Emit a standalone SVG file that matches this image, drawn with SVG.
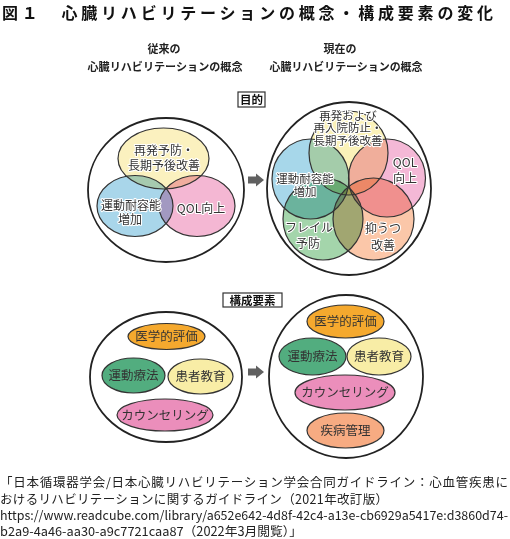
<svg xmlns="http://www.w3.org/2000/svg" width="510" height="539" viewBox="0 0 510 539">
<style>
text{font-family:"Noto Sans CJK JP","Noto Sans",sans-serif;}
.title{font-size:16px;font-weight:bold;fill:#111;}
.hdr{font-size:11px;font-weight:bold;fill:#222;text-anchor:middle;}
.lbl{font-size:11.5px;font-weight:bold;fill:#111;text-anchor:middle;}
.vt{font-size:12px;fill:#333;text-anchor:middle;stroke:#fff;stroke-width:2.2px;paint-order:stroke;stroke-linejoin:round;}
.vs2{font-size:11.5px;}
.ct{font-size:12.5px;fill:#333;text-anchor:middle;}
.foot{font-size:12.5px;fill:#222;}
.big{fill:none;stroke:#222;stroke-width:1.8;}
.vf{mix-blend-mode:multiply;stroke:none;}
.vs{fill:none;stroke:#333;stroke-width:1.2;}
.ce{stroke:#333;stroke-width:1.2;}
.box{fill:#fff;stroke:#333;stroke-width:1.2;}
.arr{fill:#606060;}
</style>
<rect width="510" height="539" fill="#fff"/>

<text class="title" x="2" y="19" textLength="491" lengthAdjust="spacing">図１　心臓リハビリテーションの概念・構成要素の変化</text>

<g id="header-old">
<text class="hdr" x="164" y="53">従来の</text>
<text class="hdr" x="165" y="71" textLength="155" lengthAdjust="spacingAndGlyphs">心臓リハビリテーションの概念</text>
</g>
<g id="header-new">
<text class="hdr" x="340" y="53">現在の</text>
<text class="hdr" x="346" y="71" textLength="153" lengthAdjust="spacingAndGlyphs">心臓リハビリテーションの概念</text>
</g>

<g id="label-purpose">
<rect class="box" x="238" y="92" width="27" height="15"/>
<text class="lbl" x="251.5" y="104">目的</text>
</g>

<g id="purpose-old">
<ellipse class="big" cx="166" cy="190" rx="78" ry="72"/>
<g style="isolation:isolate">
<ellipse class="vf" cx="163.5" cy="158.5" rx="45.5" ry="30.5" fill="#fbf1bf"/>
<ellipse class="vf" cx="135" cy="206" rx="38" ry="30.5" fill="#a9d6ea"/>
<ellipse class="vf" cx="197" cy="206" rx="38" ry="30.5" fill="#f4b7d3"/>
</g>
<ellipse class="vs" cx="163.5" cy="158.5" rx="45.5" ry="30.5"/>
<ellipse class="vs" cx="135" cy="206" rx="38" ry="30.5"/>
<ellipse class="vs" cx="197" cy="206" rx="38" ry="30.5"/>
<text class="vt" x="164" y="155">再発予防・</text>
<text class="vt" x="164" y="170">長期予後改善</text>
<text class="vt" x="131" y="210">運動耐容能</text>
<text class="vt" x="130" y="224">増加</text>
<text class="vt" x="201" y="213">QOL向上</text>
</g>

<g id="purpose-new">
<ellipse class="big" cx="349" cy="188.5" rx="82" ry="86.5"/>
<g style="isolation:isolate">
<ellipse class="vf" cx="348.5" cy="153" rx="39.5" ry="42" fill="#fbf2b9"/>
<ellipse class="vf" cx="310.5" cy="179" rx="38.5" ry="40" fill="#a7d7ea"/>
<ellipse class="vf" cx="387" cy="178" rx="38.5" ry="39" fill="#f4b8d6"/>
<ellipse class="vf" cx="323" cy="219" rx="40" ry="41" fill="#a4d5ab"/>
<ellipse class="vf" cx="373.5" cy="219" rx="40.5" ry="41" fill="#fbc7a9"/>
</g>
<ellipse class="vs" cx="348.5" cy="153" rx="39.5" ry="42"/>
<ellipse class="vs" cx="310.5" cy="179" rx="38.5" ry="40"/>
<ellipse class="vs" cx="387" cy="178" rx="38.5" ry="39"/>
<ellipse class="vs" cx="323" cy="219" rx="40" ry="41"/>
<ellipse class="vs" cx="373.5" cy="219" rx="40.5" ry="41"/>
<text class="vt vs2" x="348" y="119.5">再発および</text>
<text class="vt vs2" x="348" y="132">再入院防止・</text>
<text class="vt vs2" x="348" y="144.5">長期予後改善</text>
<text class="vt" x="405" y="167">QOL</text>
<text class="vt" x="405" y="183">向上</text>
<text class="vt vs2" x="305" y="182.5">運動耐容能</text>
<text class="vt vs2" x="305" y="196">増加</text>
<text class="vt" x="309" y="232">フレイル</text>
<text class="vt" x="308" y="248">予防</text>
<text class="vt" x="383" y="233">抑うつ</text>
<text class="vt" x="383" y="250">改善</text>
</g>

<g id="connectors">
<polygon class="arr" points="248,176.5 256,176.5 256,173.5 264,180 256,186.5 256,183.5 248,183.5"/>
<polygon class="arr" points="248,368.5 256,368.5 256,365.5 264,372 256,378.5 256,375.5 248,375.5"/>
</g>

<g id="label-components">
<rect class="box" x="223" y="293" width="59" height="14"/>
<text class="lbl" x="252.5" y="304.5">構成要素</text>
</g>

<g id="components-old">
<ellipse class="big" cx="166" cy="377" rx="76" ry="65"/>
<g id="c-old-eval"><ellipse class="ce" cx="166.5" cy="336.5" rx="38.5" ry="13" fill="#f5a92e"/><text class="ct" x="166.5" y="341">医学的評価</text></g>
<g id="c-old-exercise"><ellipse class="ce" cx="133.5" cy="375.5" rx="31.5" ry="17.5" fill="#52ad7f"/><text class="ct" x="133.5" y="380">運動療法</text></g>
<g id="c-old-edu"><ellipse class="ce" cx="200.5" cy="376.5" rx="32.5" ry="17.5" fill="#f8eda6"/><text class="ct" x="200.5" y="381">患者教育</text></g>
<g id="c-old-counsel"><ellipse class="ce" cx="165" cy="415" rx="48" ry="16" fill="#eb8ebb"/><text class="ct" x="165" y="419.5">カウンセリング</text></g>
</g>

<g id="components-new">
<ellipse class="big" cx="346" cy="376.5" rx="77" ry="81.5"/>
<g id="c-new-eval"><ellipse class="ce" cx="345.5" cy="321.5" rx="38.5" ry="16.5" fill="#f5a92e"/><text class="ct" x="345.5" y="326">医学的評価</text></g>
<g id="c-new-exercise"><ellipse class="ce" cx="312.5" cy="356.5" rx="33.5" ry="18.5" fill="#52ad7f"/><text class="ct" x="312.5" y="361">運動療法</text></g>
<g id="c-new-edu"><ellipse class="ce" cx="379" cy="356.5" rx="32" ry="18.5" fill="#f8eda6"/><text class="ct" x="379" y="361">患者教育</text></g>
<g id="c-new-counsel"><ellipse class="ce" cx="345" cy="392.5" rx="50" ry="17.5" fill="#eb8ebb"/><text class="ct" x="345" y="397">カウンセリング</text></g>
<g id="c-new-disease"><ellipse class="ce" cx="345.5" cy="430.5" rx="38.5" ry="17.5" fill="#f7ab82"/><text class="ct" x="345.5" y="435">疾病管理</text></g>
</g>

<g id="footer">
<text class="foot" x="0" y="487" textLength="508" lengthAdjust="spacing">「日本循環器学会/日本心臓リハビリテーション学会合同ガイドライン：心血管疾患に</text>
<text class="foot" x="0" y="504" textLength="388" lengthAdjust="spacing">おけるリハビリテーションに関するガイドライン（2021年改訂版）</text>
<text class="foot" x="0" y="520" textLength="508" lengthAdjust="spacingAndGlyphs">https://www.readcube.com/library/a652e642-4d8f-42c4-a13e-cb6929a5417e:d3860d74-</text>
<text class="foot" x="0" y="536" textLength="302" lengthAdjust="spacingAndGlyphs">b2a9-4a46-aa30-a9c7721caa87（2022年3月閲覧）」</text>
</g>
</svg>
